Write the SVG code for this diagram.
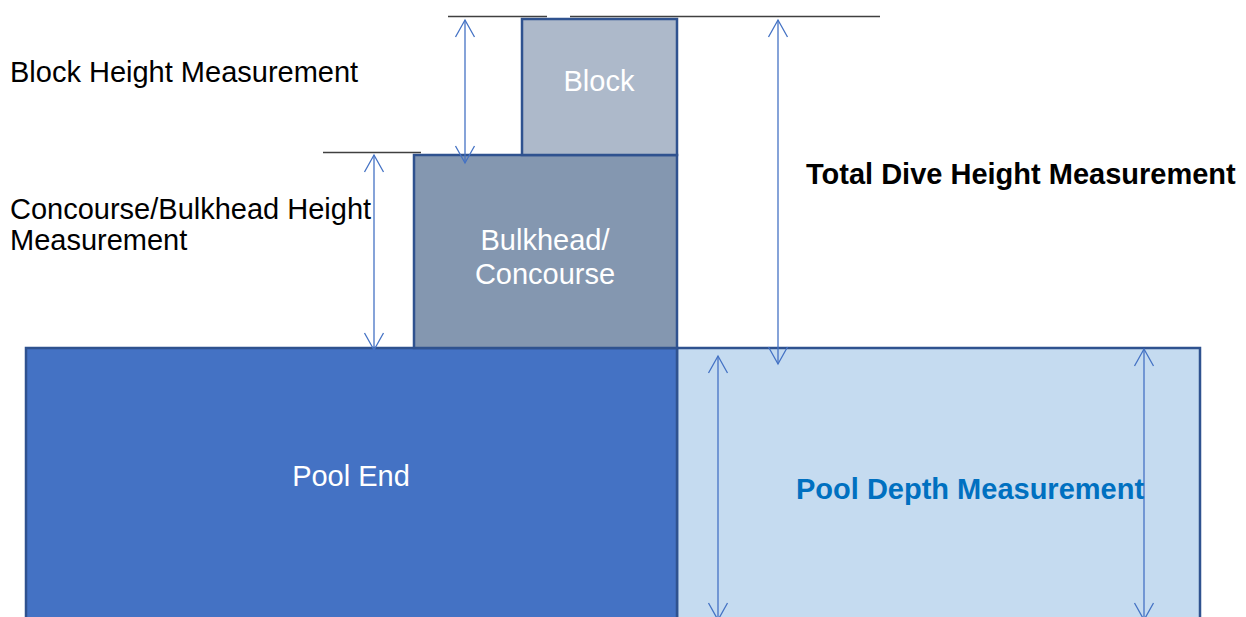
<svg xmlns="http://www.w3.org/2000/svg" width="1246" height="617" viewBox="0 0 1246 617">
<style>
.lbl{font-family:"Liberation Sans",Arial,sans-serif;font-size:29px;fill:#000}
.w{font-family:"Liberation Sans",Arial,sans-serif;font-size:29px;fill:#fff;text-anchor:middle}
.b{font-weight:bold}
.box{stroke:#2F528F;stroke-width:2.5}
.arr{stroke:#4472C4;stroke-width:1.3;fill:none}
.tick{stroke:#404040;stroke-width:1.5}
</style>
<defs>
<marker id="ah" viewBox="-18 -11 20 22" refX="0" refY="0" markerWidth="20" markerHeight="22" markerUnits="userSpaceOnUse" orient="auto-start-reverse">
<path d="M-17,-9.5 L0,0 L-17,9.5" fill="none" stroke="#4472C4" stroke-width="1.3"/>
</marker>
</defs>
<rect width="1246" height="617" fill="#fff"/>
<g id="pool-right"><rect class="box" x="677" y="348" width="523" height="280" fill="#C5DBF0"/></g>
<g id="pool-end"><rect class="box" x="26" y="348" width="651" height="280" fill="#4472C4"/><text class="w" x="351" y="486">Pool End</text></g>
<g id="bulkhead"><rect class="box" x="414" y="155" width="263" height="193" fill="#8497B0"/><text class="w" x="545" y="250">Bulkhead/</text><text class="w" x="545" y="284">Concourse</text></g>
<g id="block"><rect class="box" x="522" y="19" width="155" height="136" fill="#ADB9CA"/><text class="w" x="599" y="91">Block</text></g>
<g id="refs">
<line class="tick" x1="448" y1="16.5" x2="547" y2="16.5"/>
<line class="tick" x1="570" y1="16.5" x2="880" y2="16.5"/>
<line class="tick" x1="323" y1="152.5" x2="421" y2="152.5"/>
</g>
<g id="connectors">
<line class="arr" x1="465" y1="20" x2="465" y2="163" marker-start="url(#ah)" marker-end="url(#ah)"/>
<line class="arr" x1="778" y1="20" x2="778" y2="364" marker-start="url(#ah)" marker-end="url(#ah)"/>
<line class="arr" x1="374" y1="155" x2="374" y2="350" marker-start="url(#ah)" marker-end="url(#ah)"/>
<line class="arr" x1="718" y1="356" x2="718" y2="620" marker-start="url(#ah)" marker-end="url(#ah)"/>
<line class="arr" x1="1144" y1="349" x2="1144" y2="620" marker-start="url(#ah)" marker-end="url(#ah)"/>
</g>
<g id="labels">
<text class="lbl" x="10" y="82">Block Height Measurement</text>
<text class="lbl" x="10" y="219">Concourse/Bulkhead Height</text>
<text class="lbl" x="10" y="250">Measurement</text>
<text class="lbl b" x="806" y="184">Total Dive Height Measurement</text>
<text class="lbl b" x="796" y="499" style="fill:#0070C0">Pool Depth Measurement</text>
</g>
</svg>
